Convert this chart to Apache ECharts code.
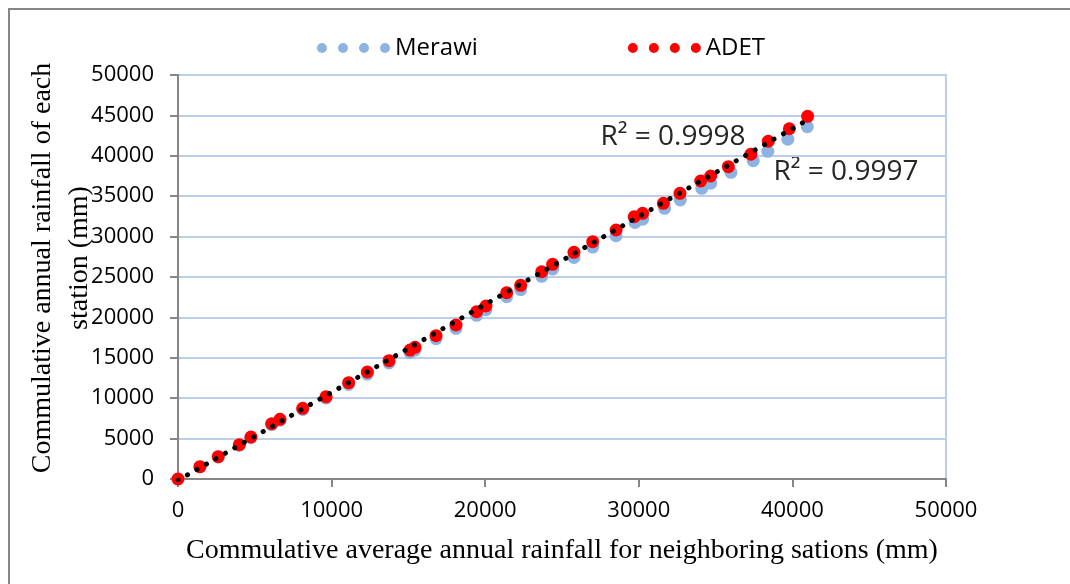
<!DOCTYPE html>
<html>
<head>
<meta charset="utf-8">
<script src="https://cdn.jsdelivr.net/npm/echarts@6/dist/echarts.min.js"></script>
<style>
  html, body { margin: 0; padding: 0; background: #fff; }
  #main { width: 1070px; height: 584px; }
</style>
</head>
<body>
<div id="main"></div>
<script>
// cumulative rainfall (mm)
var adetX = [0, 1430, 2620, 3990, 4750, 6100, 6640, 8120, 9640, 11110, 12330, 13740, 15110, 15430, 16800, 18100, 19440, 20050, 21400, 22310, 23680, 24390, 25780, 27000, 28520, 29700, 30250, 31600, 32680, 34030, 34680, 35830, 37300, 38430, 39800, 40990];
var adetY = [0, 1520, 2760, 4240, 5200, 6840, 7390, 8750, 10190, 11920, 13240, 14650, 15960, 16300, 17740, 19060, 20700, 21410, 23060, 23970, 25650, 26570, 28050, 29370, 30820, 32460, 32880, 34120, 35360, 36880, 37500, 38650, 40200, 41800, 43350, 44880];

var merawiX = [0, 1430, 2620, 3990, 4750, 6100, 6640, 8120, 9640, 11110, 12330, 13740, 15110, 15430, 16800, 18100, 19440, 20050, 21400, 22310, 23680, 24390, 25780, 27000, 28520, 29750, 30250, 31680, 32700, 34100, 34680, 36000, 37450, 38400, 39700, 40970];
var merawiY = [0, 1500, 2720, 4180, 5120, 6740, 7270, 8600, 10010, 11700, 12990, 14360, 15640, 15960, 17370, 18650, 20260, 20950, 22560, 23440, 25080, 25980, 27420, 28700, 30110, 31760, 32160, 33500, 34530, 35970, 36600, 37950, 39400, 40550, 42050, 43600];

var xTicks = [0, 10000, 20000, 30000, 40000, 50000];
var yTicks = [0, 5000, 10000, 15000, 20000, 25000, 30000, 35000, 40000, 45000, 50000];
var r2Labels = ['R\u00b2 = 0.9998', 'R\u00b2 = 0.9997'];

function pairs(xs, ys) {
  var out = [];
  for (var i = 0; i < xs.length; i++) out.push([xs[i], ys[i]]);
  return out;
}

// linear trendline for ADET (least squares)
function trend(xs, ys) {
  var n = xs.length, sx = 0, sy = 0, sxx = 0, sxy = 0;
  for (var i = 0; i < n; i++) {
    sx += xs[i]; sy += ys[i]; sxx += xs[i] * xs[i]; sxy += xs[i] * ys[i];
  }
  var b = (n * sxy - sx * sy) / (n * sxx - sx * sx);
  var a = (sy - b * sx) / n;
  var x0 = Math.min.apply(null, xs), x1 = Math.max.apply(null, xs);
  return [[x0, a + b * x0], [x1, a + b * x1]];
}

// four dots, like the excel legend marker
var dots4 = 'path://M0,5a5,5 0 1,0 10,0a5,5 0 1,0 -10,0Z' +
  'M21,5a5,5 0 1,0 10,0a5,5 0 1,0 -10,0Z' +
  'M42,5a5,5 0 1,0 10,0a5,5 0 1,0 -10,0Z' +
  'M63,5a5,5 0 1,0 10,0a5,5 0 1,0 -10,0Z';

var sansFont = '"Open Sans", "Noto Sans", sans-serif';
var serifFont = '"Liberation Serif", "DejaVu Serif", serif';

function plain(v) { return String(v); }

var mychart = echarts.init(document.getElementById('main'));
var option = {
  animation: false,
  backgroundColor: '#fff',
  legend: {
    top: 31,
    left: 312,
    itemWidth: 73,
    itemHeight: 10,
    itemGap: 150,
    textStyle: { fontFamily: sansFont, fontSize: 24, color: '#000' },
    data: [
      { name: 'Merawi', icon: dots4 },
      { name: 'ADET', icon: dots4 }
    ]
  },
  grid: {
    left: 178, right: 124, top: 75, bottom: 105,
    show: true,
    borderColor: '#bccfe8',
    borderWidth: 2
  },
  xAxis: {
    type: 'value',
    min: xTicks[0],
    max: xTicks[xTicks.length - 1],
    interval: xTicks[1] - xTicks[0],
    name: 'Commulative average annual rainfall for neighboring sations (mm)',
    nameLocation: 'middle',
    nameGap: 58,
    nameTextStyle: { fontFamily: serifFont, fontSize: 28, color: '#000' },
    axisLine: { show: true, lineStyle: { color: '#868686', width: 2 } },
    axisTick: { show: true, length: 8, lineStyle: { color: '#868686', width: 2 } },
    axisLabel: { fontFamily: sansFont, fontSize: 22, color: '#000', margin: 21, formatter: plain },
    splitLine: { show: false }
  },
  yAxis: {
    type: 'value',
    min: yTicks[0],
    max: yTicks[yTicks.length - 1],
    interval: yTicks[1] - yTicks[0],
    axisLine: { show: true, lineStyle: { color: '#868686', width: 2 } },
    axisTick: { show: true, length: 8, lineStyle: { color: '#868686', width: 2 } },
    axisLabel: { fontFamily: sansFont, fontSize: 22, color: '#000', margin: 24, formatter: plain },
    splitLine: { show: true, lineStyle: { color: '#bccfe8', width: 2 } }
  },
  graphic: [
    {
      type: 'text', x: 43, y: 268, rotation: Math.PI / 2,
      style: { text: 'Commulative annual rainfall of each', font: '28px ' + serifFont, fill: '#000', align: 'center', verticalAlign: 'middle' }
    },
    {
      type: 'text', x: 80, y: 258, rotation: Math.PI / 2,
      style: { text: 'station (mm)', font: '28px ' + serifFont, fill: '#000', align: 'center', verticalAlign: 'middle' }
    },
    {
      type: 'group', z: 100,
      children: [
        { type: 'rect', shape: { x: 598, y: 117, width: 150, height: 38 }, style: { fill: '#fff' } },
        { type: 'text', x: 673, y: 137, style: { text: r2Labels[0], font: '28px ' + sansFont, fill: '#262626', align: 'center', verticalAlign: 'middle' } },
        { type: 'rect', shape: { x: 770, y: 157, width: 155, height: 34 }, style: { fill: '#fff' } },
        { type: 'text', x: 846, y: 172, style: { text: r2Labels[1], font: '28px ' + sansFont, fill: '#262626', align: 'center', verticalAlign: 'middle' } }
      ]
    },
    {
      type: 'polyline', silent: true,
      shape: { points: [[9, 600], [9, 9], [1080, 9]] },
      style: { stroke: '#868686', lineWidth: 2, fill: null }
    }
  ],
  series: [
    {
      name: 'Merawi',
      type: 'scatter',
      symbolSize: 13,
      itemStyle: { color: '#8db3e2', opacity: 1 },
      data: pairs(merawiX, merawiY),
      z: 2
    },
    {
      name: 'ADET',
      type: 'scatter',
      symbolSize: 13,
      itemStyle: { color: '#ff0000', opacity: 1 },
      data: pairs(adetX, adetY),
      z: 3
    },
    {
      name: 'trend',
      type: 'line',
      showSymbol: false,
      symbol: 'none',
      silent: true,
      lineStyle: { color: '#000', width: 5, type: [0.1, 10.8], cap: 'round' },
      data: trend(adetX, adetY),
      z: 4
    }
  ]
};
option && mychart.setOption(option);
</script>
</body>
</html>
